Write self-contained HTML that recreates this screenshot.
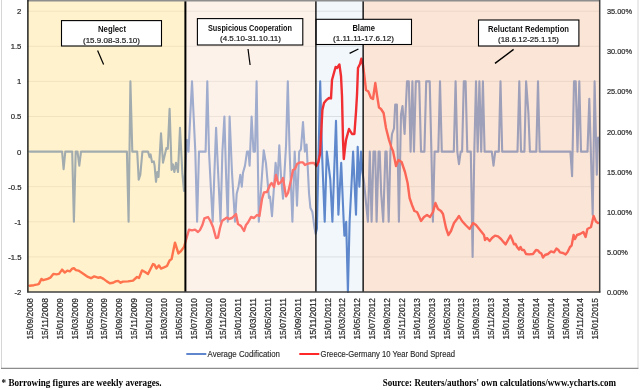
<!DOCTYPE html>
<html lang="en">
<head>
<meta charset="utf-8">
<title>Average Codification vs Greece-Germany 10 Year Bond Spread</title>
<style>
  html, body { margin: 0; padding: 0; background: #ffffff; }
  body { width: 640px; height: 390px; overflow: hidden; position: relative; }
  svg { position: absolute; left: 0; top: 0; display: block; will-change: transform; }
  .sans { font-family: "Liberation Sans", Arial, sans-serif; }
  .serif { font-family: "Liberation Serif", "Times New Roman", serif; }
  .ax text { font-size: 8.1px; fill: #262626; stroke: #262626; stroke-width: 0.2px; }
  .dt text { font-size: 8.4px; fill: #262626; stroke: #262626; stroke-width: 0.2px; }
  .cb { font-size: 8.2px; font-weight: bold; fill: #111; }
  .cn { font-size: 8px; fill: #1a1a1a; stroke: #1a1a1a; stroke-width: 0.2px; }
  .lg { font-size: 9px; fill: #2b2b2b; stroke: #2b2b2b; stroke-width: 0.15px; }
  .note { font-size: 10.4px; font-weight: bold; fill: #000; }
</style>
</head>
<body>
<svg width="640" height="390" viewBox="0 0 640 390">
  <!-- chart frame -->
  <path d="M1.5 0 V368.4 M638 0 V368.4" fill="none" stroke="#d6d6d6" stroke-width="1"/>
  <line x1="1" x2="638.4" y1="368.4" y2="368.4" stroke="#8c8c8c" stroke-width="1.1"/>

  <!-- plot background + grid -->
  <rect x="27.9" y="0" width="571.8000000000001" height="292.0" fill="#ffffff"/>
  <g stroke="#d9d9d9" stroke-width="0.8">
    <line x1="27.9" x2="599.7" y1="11.2" y2="11.2"/><line x1="27.9" x2="599.7" y1="46.3" y2="46.3"/><line x1="27.9" x2="599.7" y1="81.4" y2="81.4"/><line x1="27.9" x2="599.7" y1="116.5" y2="116.5"/><line x1="27.9" x2="599.7" y1="151.6" y2="151.6"/><line x1="27.9" x2="599.7" y1="186.7" y2="186.7"/><line x1="27.9" x2="599.7" y1="221.8" y2="221.8"/><line x1="27.9" x2="599.7" y1="256.9" y2="256.9"/>
  </g>

  <!-- data series -->
  <defs><filter id="soft" x="-5%" y="-5%" width="110%" height="110%"><feGaussianBlur stdDeviation="0.4"/></filter></defs>
  <g filter="url(#soft)">
  <polyline fill="none" stroke="#4472c4" stroke-width="2.1" stroke-linejoin="round" stroke-linecap="round"
    points="29.6,151.6 60.4,151.6 62.1,151.6 63.6,169.2 65.3,151.6 72.2,151.6 73.9,221.8 75.7,151.6 77.5,151.6 79.3,165.6 81.0,151.6 126.9,151.6 128.6,221.8 130.4,81.4 132.3,151.6 137.2,151.6 138.7,179.7 140.3,174.8 142.4,151.6 148.0,151.6 149.6,157.2 150.6,154.4 152.0,162.1 153.8,161.4 154.6,165.6 156.0,181.8 157.3,172.0 158.5,176.9 161.0,133.3 163.0,162.8 166.4,148.1 167.8,148.8 169.6,108.8 171.6,169.9 172.8,164.2 174.4,172.0 176.0,162.8 178.0,172.0 180.0,127.7 182.4,174.1 184.0,190.9 186.9,139.7 188.5,151.6 192.0,81.4 195.3,151.6 197.1,221.8 199.0,151.6 205.6,151.6 207.3,81.4 209.0,151.6 210.8,186.7 212.7,221.8 214.4,172.7 216.1,127.7 218.0,169.9 220.5,221.8 222.4,151.6 224.4,116.5 226.0,172.7 227.8,221.8 229.6,116.5 232.0,172.7 235.0,221.8 236.7,193.7 238.5,186.7 240.3,174.8 241.8,186.7 243.0,172.7 245.0,165.6 247.0,151.6 248.5,151.6 249.6,165.6 251.6,116.5 253.5,151.6 255.0,151.6 256.6,81.4 258.8,221.8 261.2,186.7 263.7,150.2 266.0,163.5 269.0,197.9 270.0,196.5 272.0,216.2 275.6,162.8 277.6,179.7 279.3,145.3 281.0,176.2 283.0,198.6 286.1,144.6 287.8,81.4 289.6,151.6 292.4,221.8 294.7,151.6 297.0,205.7 299.2,151.6 300.9,149.5 303.0,122.1 304.9,151.6 306.6,144.6 308.0,172.7 309.0,193.0 310.4,207.8 312.4,212.0 314.4,227.4 315.6,233.7 316.9,228.8 320.2,81.4 322.0,151.6 324.7,221.8 326.8,151.6 328.6,165.6 330.3,179.7 332.4,221.8 336.0,120.7 338.4,214.8 341.2,162.8 343.7,221.8 344.4,235.8 346.2,221.8 347.9,292.0 349.6,221.8 351.4,186.7 353.1,151.6 356.0,214.8 357.7,146.7 359.4,186.7 361.0,151.6 362.5,172.7 364.1,182.5 365.8,200.7 367.9,221.8 369.8,151.6 371.6,221.8 373.5,151.6 375.2,151.6 376.6,221.8 378.6,151.6 379.7,151.6 381.2,193.7 383.2,221.8 385.4,151.6 386.6,151.6 388.7,221.8 390.4,151.6 392.0,134.0 394.0,128.4 395.2,104.6 396.9,104.6 398.9,221.8 401.0,114.4 402.5,106.0 404.6,134.0 407.0,81.4 408.8,81.4 410.6,151.6 412.4,81.4 414.0,151.6 415.8,81.4 417.5,81.4 419.2,81.4 421.0,151.6 424.4,151.6 426.2,81.4 428.0,81.4 429.7,81.4 431.4,151.6 432.9,221.8 434.6,151.6 438.3,151.6 440.0,81.4 441.8,151.6 453.8,151.6 455.6,81.4 457.3,151.6 459.0,164.2 460.7,151.6 462.1,151.6 463.8,81.4 465.6,81.4 467.3,151.6 470.8,151.6 472.6,256.9 474.3,151.6 476.0,81.4 477.7,151.6 479.4,81.4 481.2,151.6 482.9,81.4 484.6,151.6 491.8,151.6 493.5,165.6 495.2,151.6 498.8,151.6 500.5,81.4 502.2,151.6 517.5,151.6 519.3,81.4 521.0,151.6 524.4,151.6 526.1,81.4 528.4,113.0 529.9,151.6 536.3,151.6 538.0,81.4 539.7,151.6 570.4,151.6 572.1,176.2 574.0,81.4 575.7,81.4 577.5,151.6 579.3,81.4 581.0,151.6 587.5,151.6 589.3,98.9 592.7,214.8 594.6,81.4 596.8,174.8 598.1,137.6"/>
  <polyline fill="none" stroke="#ff0000" stroke-width="2.4" stroke-linejoin="round" stroke-linecap="round"
    points="29.6,285.7 33.9,285.2 37.7,284.4 38.9,283.9 41.5,278.9 43.2,280.2 47.7,278.9 50.3,277.7 53.3,273.9 56.5,274.4 59.0,273.9 62.1,269.6 64.8,272.6 67.3,270.6 69.8,271.4 71.9,268.9 73.9,268.1 75.9,270.1 78.4,270.6 82.9,273.4 87.9,276.9 91.0,278.2 94.2,276.4 98.0,277.7 100.5,277.2 103.5,278.9 106.8,281.4 109.8,283.2 113.1,282.7 115.6,281.4 118.1,280.9 120.6,282.7 123.0,281.6 128.0,281.4 133.0,280.6 137.0,277.0 139.0,278.0 142.0,270.4 145.0,272.0 148.0,274.0 151.0,268.0 153.0,264.0 154.4,264.6 156.4,268.4 159.0,265.4 161.0,268.6 164.0,267.4 167.0,266.0 169.6,260.4 171.6,259.0 175.0,242.6 178.4,253.4 181.0,251.0 184.0,247.0 186.0,240.0 189.0,229.6 192.0,230.4 195.0,229.6 198.0,232.0 200.0,230.0 202.4,225.0 204.4,218.4 206.4,217.6 208.0,217.0 210.4,221.0 213.0,227.0 216.0,238.0 218.0,237.6 220.0,228.0 222.0,221.0 224.0,219.6 227.0,217.6 229.0,219.0 232.0,218.0 234.0,216.0 236.0,214.0 238.0,224.0 241.0,226.0 244.0,231.0 246.0,225.0 248.0,222.5 251.0,217.0 254.0,218.0 257.0,215.0 259.4,216.0 262.0,199.0 264.0,192.4 267.0,192.0 270.0,185.0 271.6,183.0 274.0,187.0 276.0,175.0 278.4,184.0 281.0,182.0 283.0,178.0 286.0,196.4 288.0,193.0 291.0,180.0 293.0,170.0 295.0,169.0 297.0,164.0 300.0,162.4 303.0,162.4 305.0,165.0 308.0,163.6 311.0,163.0 314.0,163.0 316.4,166.0 318.4,162.0 320.0,154.0 321.0,136.0 322.4,110.0 324.0,103.0 326.0,100.4 329.0,98.0 331.0,98.4 332.0,80.0 335.6,67.0 337.0,68.0 339.4,64.4 341.0,76.0 342.0,96.0 343.0,140.0 343.8,159.0 345.0,148.0 346.0,140.0 349.0,129.0 352.0,134.0 354.4,134.0 356.0,112.0 357.0,95.0 358.0,68.0 360.0,64.0 361.4,58.6 363.0,65.0 364.4,76.0 366.0,90.0 368.4,91.6 371.0,98.0 373.0,99.0 375.3,83.0 377.0,95.0 379.0,107.6 381.0,109.0 383.6,113.0 386.0,128.0 389.0,140.0 391.6,148.0 393.0,151.0 396.0,166.0 398.4,160.0 401.6,162.0 405.0,172.0 407.6,183.0 409.6,198.0 412.0,205.0 414.4,211.0 417.0,212.0 418.0,214.0 421.0,221.0 424.0,217.0 427.0,215.0 430.0,217.0 433.0,212.0 435.4,203.0 438.0,209.0 441.0,211.0 443.0,214.0 446.0,228.0 448.4,235.0 451.0,231.0 454.0,223.0 457.0,219.0 459.0,216.0 462.0,221.0 465.6,225.0 469.6,229.0 473.0,223.0 476.0,225.0 480.0,230.0 484.0,235.0 485.0,240.0 487.0,238.0 489.6,241.0 492.0,238.0 495.0,235.6 498.0,236.4 501.0,239.0 503.0,241.4 505.6,244.4 508.0,240.0 510.4,235.6 512.4,240.0 514.0,244.4 515.6,244.0 517.0,247.0 519.0,249.6 520.6,247.0 522.0,250.0 524.0,250.0 526.0,254.0 529.0,254.4 533.0,254.0 536.0,250.0 538.0,250.4 539.6,252.4 541.4,253.6 543.0,257.6 545.0,255.0 548.0,254.0 551.0,251.4 554.0,252.4 556.4,248.6 558.4,250.0 560.0,252.4 563.0,253.0 565.6,254.4 567.6,252.0 570.0,247.0 571.6,245.6 573.6,235.0 575.0,239.0 577.0,235.0 580.0,234.0 583.4,232.0 585.6,237.0 587.4,229.0 591.0,227.0 593.6,216.0 596.0,221.6 598.0,223.0"/>
  </g>

  <!-- translucent period overlays -->
  <rect x="27.9" y="0" width="157.5" height="292.0" fill="#ffe699" fill-opacity="0.5"/>
  <rect x="185.4" y="0" width="130.6" height="292.0" fill="#fbe5d6" fill-opacity="0.5"/>
  <rect x="316.0" y="0" width="47.19999999999999" height="292.0" fill="#bdd7ee" fill-opacity="0.21"/>
  <rect x="363.2" y="0" width="236.50000000000006" height="292.0" fill="#f8cbad" fill-opacity="0.5"/>

  <!-- period separators -->
  <line x1="185.4" x2="185.4" y1="0" y2="292.0" stroke="#000" stroke-width="2"/>
  <line x1="315.9" x2="315.9" y1="0" y2="292.0" stroke="#1a1a1a" stroke-width="1.5"/>
  <line x1="363.15" x2="363.15" y1="0" y2="292.0" stroke="#1a1a1a" stroke-width="1.5"/>

  <!-- plot border -->
  <line x1="27.9" x2="599.7" y1="0.75" y2="0.75" stroke="#8e8e8e" stroke-width="1.5"/>
  <line x1="27.9" x2="27.9" y1="0" y2="292.6" stroke="#000" stroke-width="1.3"/>
  <line x1="599.7" x2="599.7" y1="0" y2="292.6" stroke="#404040" stroke-width="1.5"/>
  <line x1="27.299999999999997" x2="600.4000000000001" y1="292.0" y2="292.0" stroke="#404040" stroke-width="1.4"/>

  <!-- callouts -->
  <g class="sans">
    <rect x="61.5" y="20.6" width="100" height="25.4" fill="#fff" stroke="#000" stroke-width="1.1"/>
    <line x1="97.6" y1="50.6" x2="103.6" y2="64.4" stroke="#000" stroke-width="1.2"/>
    <text class="cb" x="98" y="32.4" textLength="28" lengthAdjust="spacingAndGlyphs">Neglect</text>
    <text class="cn" x="83" y="43" textLength="57" lengthAdjust="spacingAndGlyphs">(15.9.08-3.5.10)</text>

    <rect x="197.4" y="18.6" width="105.4" height="26.4" fill="#fff" stroke="#000" stroke-width="1.1"/>
    <line x1="248" y1="49" x2="250.1" y2="65" stroke="#000" stroke-width="1.2"/>
    <text class="cb" x="208" y="30.6" textLength="84" lengthAdjust="spacingAndGlyphs">Suspicious Cooperation</text>
    <text class="cn" x="220" y="41" textLength="61" lengthAdjust="spacingAndGlyphs">(4.5.10-31.10.11)</text>

    <rect x="316.2" y="19.3" width="95.3" height="25.2" fill="#fff" stroke="#000" stroke-width="1.1"/>
    <line x1="358.4" y1="49" x2="349.6" y2="53.4" stroke="#000" stroke-width="1.2"/>
    <text class="cb" x="352.4" y="30.6" textLength="22.6" lengthAdjust="spacingAndGlyphs">Blame</text>
    <text class="cn" x="333" y="41" textLength="61" lengthAdjust="spacingAndGlyphs">(1.11.11-17.6.12)</text>

    <rect x="478.5" y="20" width="100.4" height="26" fill="#fff" stroke="#000" stroke-width="1.1"/>
    <line x1="513.6" y1="49.4" x2="495" y2="63.4" stroke="#000" stroke-width="1.4"/>
    <text class="cb" x="488" y="31.6" textLength="81" lengthAdjust="spacingAndGlyphs">Reluctant Redemption</text>
    <text class="cn" x="498" y="42.4" textLength="61" lengthAdjust="spacingAndGlyphs">(18.6.12-25.1.15)</text>
  </g>

  <!-- axis labels -->
  <g class="sans ax">
    <text x="17.12" y="14.1" textLength="4.3" lengthAdjust="spacingAndGlyphs">2</text><text x="10.70" y="49.2" textLength="10.7" lengthAdjust="spacingAndGlyphs">1.5</text><text x="17.12" y="84.3" textLength="4.3" lengthAdjust="spacingAndGlyphs">1</text><text x="10.70" y="119.4" textLength="10.7" lengthAdjust="spacingAndGlyphs">0.5</text><text x="17.12" y="154.5" textLength="4.3" lengthAdjust="spacingAndGlyphs">0</text><text x="8.13" y="189.6" textLength="13.3" lengthAdjust="spacingAndGlyphs">-0.5</text><text x="14.55" y="224.7" textLength="6.8" lengthAdjust="spacingAndGlyphs">-1</text><text x="8.13" y="259.8" textLength="13.3" lengthAdjust="spacingAndGlyphs">-1.5</text><text x="14.55" y="294.9" textLength="6.8" lengthAdjust="spacingAndGlyphs">-2</text>
    <text x="606.9" y="14.2" textLength="25.1" lengthAdjust="spacingAndGlyphs">35.00%</text><text x="606.9" y="54.3" textLength="25.1" lengthAdjust="spacingAndGlyphs">30.00%</text><text x="606.9" y="94.4" textLength="25.1" lengthAdjust="spacingAndGlyphs">25.00%</text><text x="606.9" y="134.5" textLength="25.1" lengthAdjust="spacingAndGlyphs">20.00%</text><text x="606.9" y="174.6" textLength="25.1" lengthAdjust="spacingAndGlyphs">15.00%</text><text x="606.9" y="214.7" textLength="25.1" lengthAdjust="spacingAndGlyphs">10.00%</text><text x="606.9" y="254.8" textLength="21.0" lengthAdjust="spacingAndGlyphs">5.00%</text><text x="606.9" y="294.9" textLength="21.0" lengthAdjust="spacingAndGlyphs">0.00%</text>
  </g>
  <g class="sans dt">
    <text transform="translate(33.00,339.6) rotate(-90)" textLength="41.6" lengthAdjust="spacingAndGlyphs">15/09/2008</text><text transform="translate(47.88,339.6) rotate(-90)" textLength="41.6" lengthAdjust="spacingAndGlyphs">15/11/2008</text><text transform="translate(62.75,339.6) rotate(-90)" textLength="41.6" lengthAdjust="spacingAndGlyphs">15/01/2009</text><text transform="translate(77.62,339.6) rotate(-90)" textLength="41.6" lengthAdjust="spacingAndGlyphs">15/03/2009</text><text transform="translate(92.50,339.6) rotate(-90)" textLength="41.6" lengthAdjust="spacingAndGlyphs">15/05/2009</text><text transform="translate(107.38,339.6) rotate(-90)" textLength="41.6" lengthAdjust="spacingAndGlyphs">15/07/2009</text><text transform="translate(122.25,339.6) rotate(-90)" textLength="41.6" lengthAdjust="spacingAndGlyphs">15/09/2009</text><text transform="translate(137.12,339.6) rotate(-90)" textLength="41.6" lengthAdjust="spacingAndGlyphs">15/11/2009</text><text transform="translate(152.00,339.6) rotate(-90)" textLength="41.6" lengthAdjust="spacingAndGlyphs">15/01/2010</text><text transform="translate(166.88,339.6) rotate(-90)" textLength="41.6" lengthAdjust="spacingAndGlyphs">15/03/2010</text><text transform="translate(181.75,339.6) rotate(-90)" textLength="41.6" lengthAdjust="spacingAndGlyphs">15/05/2010</text><text transform="translate(196.62,339.6) rotate(-90)" textLength="41.6" lengthAdjust="spacingAndGlyphs">15/07/2010</text><text transform="translate(211.50,339.6) rotate(-90)" textLength="41.6" lengthAdjust="spacingAndGlyphs">15/09/2010</text><text transform="translate(226.38,339.6) rotate(-90)" textLength="41.6" lengthAdjust="spacingAndGlyphs">15/11/2010</text><text transform="translate(241.25,339.6) rotate(-90)" textLength="41.6" lengthAdjust="spacingAndGlyphs">15/01/2011</text><text transform="translate(256.12,339.6) rotate(-90)" textLength="41.6" lengthAdjust="spacingAndGlyphs">15/03/2011</text><text transform="translate(271.00,339.6) rotate(-90)" textLength="41.6" lengthAdjust="spacingAndGlyphs">15/05/2011</text><text transform="translate(285.88,339.6) rotate(-90)" textLength="41.6" lengthAdjust="spacingAndGlyphs">15/07/2011</text><text transform="translate(300.75,339.6) rotate(-90)" textLength="41.6" lengthAdjust="spacingAndGlyphs">15/09/2011</text><text transform="translate(315.62,339.6) rotate(-90)" textLength="41.6" lengthAdjust="spacingAndGlyphs">15/11/2011</text><text transform="translate(330.50,339.6) rotate(-90)" textLength="41.6" lengthAdjust="spacingAndGlyphs">15/01/2012</text><text transform="translate(345.38,339.6) rotate(-90)" textLength="41.6" lengthAdjust="spacingAndGlyphs">15/03/2012</text><text transform="translate(360.25,339.6) rotate(-90)" textLength="41.6" lengthAdjust="spacingAndGlyphs">15/05/2012</text><text transform="translate(375.12,339.6) rotate(-90)" textLength="41.6" lengthAdjust="spacingAndGlyphs">15/07/2012</text><text transform="translate(390.00,339.6) rotate(-90)" textLength="41.6" lengthAdjust="spacingAndGlyphs">15/09/2012</text><text transform="translate(404.88,339.6) rotate(-90)" textLength="41.6" lengthAdjust="spacingAndGlyphs">15/11/2012</text><text transform="translate(419.75,339.6) rotate(-90)" textLength="41.6" lengthAdjust="spacingAndGlyphs">15/01/2013</text><text transform="translate(434.62,339.6) rotate(-90)" textLength="41.6" lengthAdjust="spacingAndGlyphs">15/03/2013</text><text transform="translate(449.50,339.6) rotate(-90)" textLength="41.6" lengthAdjust="spacingAndGlyphs">15/05/2013</text><text transform="translate(464.38,339.6) rotate(-90)" textLength="41.6" lengthAdjust="spacingAndGlyphs">15/07/2013</text><text transform="translate(479.25,339.6) rotate(-90)" textLength="41.6" lengthAdjust="spacingAndGlyphs">15/09/2013</text><text transform="translate(494.12,339.6) rotate(-90)" textLength="41.6" lengthAdjust="spacingAndGlyphs">15/11/2013</text><text transform="translate(509.00,339.6) rotate(-90)" textLength="41.6" lengthAdjust="spacingAndGlyphs">15/01/2014</text><text transform="translate(523.88,339.6) rotate(-90)" textLength="41.6" lengthAdjust="spacingAndGlyphs">15/03/2014</text><text transform="translate(538.75,339.6) rotate(-90)" textLength="41.6" lengthAdjust="spacingAndGlyphs">15/05/2014</text><text transform="translate(553.62,339.6) rotate(-90)" textLength="41.6" lengthAdjust="spacingAndGlyphs">15/07/2014</text><text transform="translate(568.50,339.6) rotate(-90)" textLength="41.6" lengthAdjust="spacingAndGlyphs">15/09/2014</text><text transform="translate(583.38,339.6) rotate(-90)" textLength="41.6" lengthAdjust="spacingAndGlyphs">15/11/2014</text><text transform="translate(598.25,339.6) rotate(-90)" textLength="41.6" lengthAdjust="spacingAndGlyphs">15/01/2015</text>
  </g>

  <!-- legend -->
  <g class="sans lg">
    <line x1="186.3" x2="206.3" y1="354" y2="354" stroke="#4472c4" stroke-width="1.7"/>
    <text x="207.6" y="357.1" textLength="72.4" lengthAdjust="spacingAndGlyphs">Average Codification</text>
    <line x1="299.3" x2="319.3" y1="354" y2="354" stroke="#ff0000" stroke-width="1.7"/>
    <text x="320.6" y="357.1" textLength="134.4" lengthAdjust="spacingAndGlyphs">Greece-Germany 10 Year Bond Spread</text>
  </g>

  <!-- footnotes -->
  <g class="serif note">
    <text x="1.6" y="386.2" textLength="160" lengthAdjust="spacingAndGlyphs">* Borrowing figures are weekly averages.</text>
    <text x="382.7" y="386.2" textLength="233.4" lengthAdjust="spacingAndGlyphs">Source: Reuters/authors' own calculations/www.ycharts.com</text>
  </g>
</svg>
</body>
</html>
